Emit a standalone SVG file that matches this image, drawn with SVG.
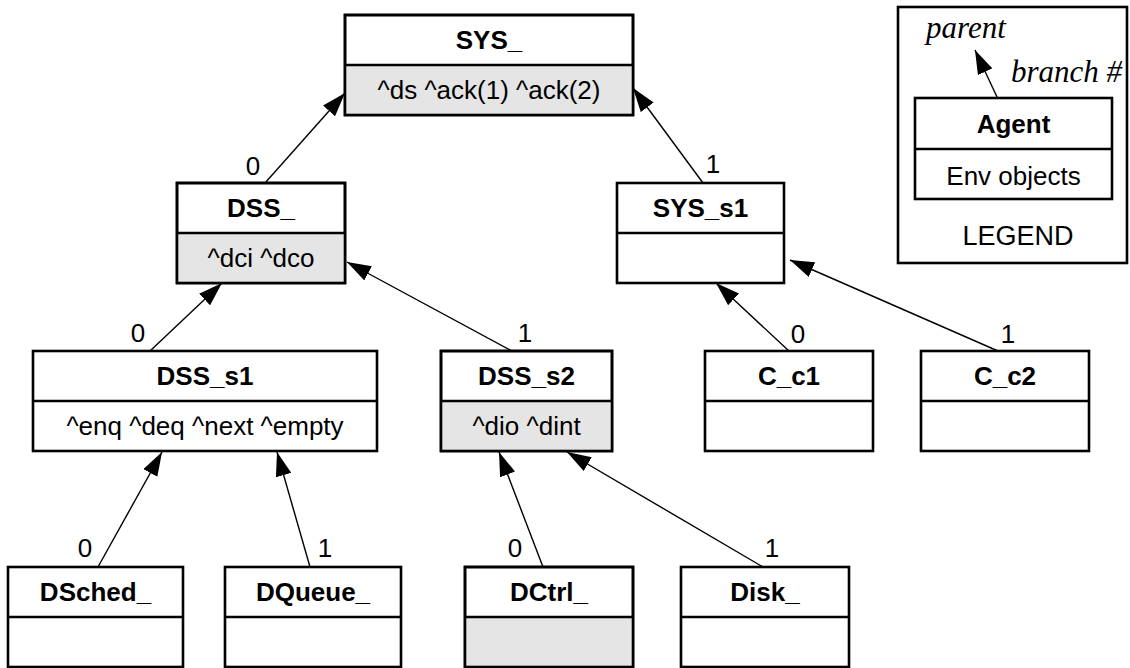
<svg xmlns="http://www.w3.org/2000/svg" width="1130" height="668" viewBox="0 0 1130 668">
<defs>
<style>
.box{fill:#ffffff;stroke:#000;stroke-width:2.6}
.env{fill:#e5e5e5;stroke:none}
.out{fill:none;stroke:#000;stroke-width:2.6}
.div{stroke:#000;stroke-width:2.6}
.t{font-family:"Liberation Sans",Arial,sans-serif;font-size:26px;font-weight:bold;text-anchor:middle;fill:#000}
.e{font-family:"Liberation Sans",Arial,sans-serif;font-size:26px;text-anchor:middle;fill:#000}
.n{font-family:"Liberation Sans",Arial,sans-serif;font-size:26px;text-anchor:middle;fill:#000}
.it{font-family:"Liberation Serif","Times New Roman",serif;font-size:31px;font-style:italic;fill:#000}
.c{stroke:#000;stroke-width:1.4;fill:none;marker-end:url(#ah)}
</style>
<marker id="ah" viewBox="0 0 24 16" refX="24" refY="8" markerWidth="24" markerHeight="16" markerUnits="userSpaceOnUse" orient="auto">
<path d="M0,0 L24,8 L0,16 z" fill="#000"/>
</marker>
</defs>
<rect width="1130" height="668" fill="#fff"/>

<g id="connectors">
<line class="c" x1="265" y1="183" x2="345" y2="93"/>
<line class="c" x1="703" y1="183" x2="633" y2="88"/>
<line class="c" x1="150" y1="351" x2="222" y2="283"/>
<line class="c" x1="512" y1="351" x2="347" y2="262"/>
<line class="c" x1="789" y1="351" x2="716" y2="283"/>
<line class="c" x1="998" y1="351" x2="790" y2="260"/>
<line class="c" x1="98" y1="567" x2="162" y2="452"/>
<line class="c" x1="310" y1="567" x2="277" y2="452"/>
<line class="c" x1="543" y1="567" x2="499" y2="452"/>
<line class="c" x1="763" y1="567" x2="567" y2="452"/>
<text class="n" x="253" y="175">0</text>
<text class="n" x="713" y="173">1</text>
<text class="n" x="138" y="342">0</text>
<text class="n" x="525" y="342">1</text>
<text class="n" x="798" y="343">0</text>
<text class="n" x="1008" y="343">1</text>
<text class="n" x="85" y="557">0</text>
<text class="n" x="325" y="557">1</text>
<text class="n" x="515" y="557">0</text>
<text class="n" x="772" y="557">1</text>
</g>

<g id="SYS_">
<rect class="box" x="345" y="15" width="288" height="100"/>
<rect class="env" x="345" y="65" width="288" height="50"/>
<rect class="out" x="345" y="15" width="288" height="100"/>
<line class="div" x1="345" y1="65" x2="633" y2="65"/>
<text class="t" x="489" y="49">SYS_</text>
<text class="e" x="489" y="99">^ds ^ack(1) ^ack(2)</text>
</g>

<g id="DSS_">
<rect class="box" x="177" y="183" width="168" height="100"/>
<rect class="env" x="177" y="233" width="168" height="50"/>
<rect class="out" x="177" y="183" width="168" height="100"/>
<line class="div" x1="177" y1="233" x2="345" y2="233"/>
<text class="t" x="261" y="217">DSS_</text>
<text class="e" x="261" y="267">^dci ^dco</text>
</g>

<g id="SYS_s1">
<rect class="box" x="617" y="183" width="167" height="100"/>
<line class="div" x1="617" y1="233" x2="784" y2="233"/>
<text class="t" x="700.5" y="217">SYS_s1</text>
</g>

<g id="DSS_s1">
<rect class="box" x="33" y="351" width="344" height="100"/>
<line class="div" x1="33" y1="401" x2="377" y2="401"/>
<text class="t" x="205" y="385">DSS_s1</text>
<text class="e" x="205" y="435">^enq ^deq ^next ^empty</text>
</g>

<g id="DSS_s2">
<rect class="box" x="441" y="351" width="171" height="100"/>
<rect class="env" x="441" y="401" width="171" height="50"/>
<rect class="out" x="441" y="351" width="171" height="100"/>
<line class="div" x1="441" y1="401" x2="612" y2="401"/>
<text class="t" x="526.5" y="385">DSS_s2</text>
<text class="e" x="526.5" y="435">^dio ^dint</text>
</g>

<g id="C_c1">
<rect class="box" x="705" y="351" width="168" height="100"/>
<line class="div" x1="705" y1="401" x2="873" y2="401"/>
<text class="t" x="789" y="385">C_c1</text>
</g>

<g id="C_c2">
<rect class="box" x="921" y="351" width="168" height="100"/>
<line class="div" x1="921" y1="401" x2="1089" y2="401"/>
<text class="t" x="1005" y="385">C_c2</text>
</g>

<g id="DSched_">
<rect class="box" x="8" y="567" width="175" height="100"/>
<line class="div" x1="8" y1="617" x2="183" y2="617"/>
<text class="t" x="95.5" y="601">DSched_</text>
</g>

<g id="DQueue_">
<rect class="box" x="225" y="567" width="176" height="100"/>
<line class="div" x1="225" y1="617" x2="401" y2="617"/>
<text class="t" x="313" y="601">DQueue_</text>
</g>

<g id="DCtrl_">
<rect class="box" x="465" y="567" width="168" height="100"/>
<rect class="env" x="465" y="617" width="168" height="50"/>
<rect class="out" x="465" y="567" width="168" height="100"/>
<line class="div" x1="465" y1="617" x2="633" y2="617"/>
<text class="t" x="549" y="601">DCtrl_</text>
</g>

<g id="Disk_">
<rect class="box" x="681" y="567" width="168" height="100"/>
<line class="div" x1="681" y1="617" x2="849" y2="617"/>
<text class="t" x="765" y="601">Disk_</text>
</g>

<g id="legend">
<rect class="out" x="898" y="7" width="229" height="256"/>
<line class="c" x1="997" y1="97" x2="975" y2="50"/>
<text class="it" x="926" y="38">parent</text>
<text class="it" x="1011" y="82">branch #</text>
<rect class="box" x="915" y="98" width="197" height="101"/>
<line class="div" x1="915" y1="149" x2="1112" y2="149"/>
<text class="t" x="1013.5" y="133">Agent</text>
<text class="e" x="1013.5" y="185">Env objects</text>
<text class="e" x="1018" y="245" style="font-size:27px">LEGEND</text>
</g>
</svg>
